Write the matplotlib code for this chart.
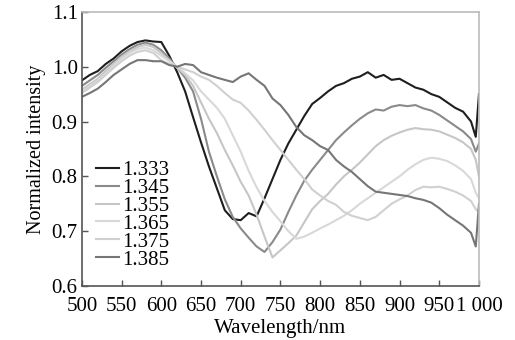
import matplotlib
matplotlib.use('Agg')
import matplotlib.pyplot as plt

# wavelength grid (nm)
wl = [500, 510, 520, 530, 540, 550, 560, 570, 580, 590,
      600, 610, 620, 630, 640, 650, 660, 670, 680, 690,
      700, 710, 720, 730, 740, 750, 760, 770, 780, 790,
      800, 810, 820, 830, 840, 850, 860, 870, 880, 890,
      900, 910, 920, 930, 940, 950, 960, 970, 980, 990,
      996, 1000]

n1333 = [0.975, 0.985, 0.992, 1.005, 1.015, 1.028, 1.038, 1.045, 1.048, 1.046,
         1.045, 1.020, 0.990, 0.955, 0.908, 0.862, 0.818, 0.778, 0.738, 0.722,
         0.720, 0.733, 0.727, 0.760, 0.795, 0.830, 0.860, 0.885, 0.910, 0.932,
         0.943, 0.955, 0.965, 0.970, 0.978, 0.982, 0.990, 0.980, 0.985, 0.976,
         0.978, 0.970, 0.962, 0.958, 0.950, 0.945, 0.935, 0.925, 0.918, 0.900,
         0.872, 0.950]

n1345 = [0.965, 0.975, 0.985, 0.998, 1.010, 1.022, 1.032, 1.040, 1.044, 1.040,
         1.030, 1.015, 0.998, 0.980, 0.955, 0.905, 0.845, 0.800, 0.758, 0.726,
         0.705, 0.688, 0.672, 0.662, 0.680, 0.703, 0.735, 0.765, 0.792, 0.812,
         0.830, 0.848, 0.866, 0.880, 0.893, 0.905, 0.915, 0.922, 0.920, 0.927,
         0.930, 0.928, 0.930, 0.924, 0.920, 0.912, 0.902, 0.892, 0.882, 0.868,
         0.845, 0.860]

n1355 = [0.958, 0.968, 0.978, 0.992, 1.005, 1.018, 1.028, 1.036, 1.040, 1.036,
         1.025, 1.012, 0.998, 0.985, 0.965, 0.935, 0.905, 0.879, 0.848, 0.820,
         0.790, 0.765, 0.730, 0.690, 0.652, 0.665, 0.678, 0.692, 0.716, 0.740,
         0.755, 0.768, 0.785, 0.800, 0.812, 0.825, 0.840, 0.855, 0.866, 0.874,
         0.880, 0.885, 0.888, 0.886, 0.885, 0.882, 0.876, 0.870, 0.862, 0.850,
         0.830, 0.800]

n1365 = [0.955, 0.965, 0.975, 0.988, 1.002, 1.015, 1.025, 1.032, 1.035, 1.030,
         1.020, 1.010, 1.000, 0.988, 0.975, 0.955, 0.940, 0.925, 0.905, 0.875,
         0.845, 0.810, 0.780, 0.755, 0.735, 0.718, 0.700, 0.686, 0.690, 0.697,
         0.705, 0.712, 0.720, 0.728, 0.738, 0.750, 0.760, 0.770, 0.780, 0.790,
         0.800, 0.812, 0.822, 0.830, 0.834, 0.832, 0.828, 0.820, 0.810, 0.795,
         0.770, 0.760]

n1375 = [0.952, 0.962, 0.972, 0.985, 0.998, 1.010, 1.020, 1.027, 1.030, 1.025,
         1.012, 1.005, 1.000, 0.995, 0.990, 0.982, 0.976, 0.965, 0.952, 0.940,
         0.934, 0.920, 0.903, 0.885, 0.866, 0.848, 0.830, 0.812, 0.795, 0.776,
         0.765, 0.755, 0.748, 0.735, 0.728, 0.724, 0.720, 0.726, 0.738, 0.750,
         0.758, 0.765, 0.775, 0.781, 0.780, 0.781, 0.777, 0.772, 0.765, 0.755,
         0.740, 0.735]

n1385 = [0.945, 0.952, 0.960, 0.972, 0.985, 0.995, 1.005, 1.012, 1.012, 1.010,
         1.010, 1.003, 1.000, 1.005, 1.003, 0.990, 0.985, 0.980, 0.976, 0.972,
         0.982, 0.988, 0.976, 0.965, 0.942, 0.930, 0.912, 0.890, 0.875, 0.866,
         0.855, 0.848, 0.830, 0.818, 0.808, 0.795, 0.782, 0.772, 0.770, 0.768,
         0.766, 0.764, 0.760, 0.757, 0.752, 0.742, 0.730, 0.720, 0.710, 0.697,
         0.672, 0.750]

labels = ['1.333', '1.345', '1.355', '1.365', '1.375', '1.385']
colors = ['#1e1e1e', '#8a8a8a', '#c6c6c6', '#d8d8d8', '#d0d0d0', '#767676']
series = [n1333, n1345, n1355, n1365, n1375, n1385]

xticks = [500, 550, 600, 650, 700, 750, 800, 850, 900, 950, 1000]
xticklabels = ['500', '550', '600', '650', '700', '750', '800', '850', '900', '950', '1 000']
yticks = [0.6, 0.7, 0.8, 0.9, 1.0, 1.1]
yticklabels = ['0.6', '0.7', '0.8', '0.9', '1.0', '1.1']

plt.rcParams['font.family'] = ['Liberation Serif', 'DejaVu Serif']
plt.rcParams['font.size'] = 15

fig = plt.figure(figsize=(5.15, 3.40), dpi=100)
ax = fig.add_axes([0.159, 0.159, 0.771, 0.806])

for vals, lab, col in zip(series, labels, colors):
    ax.plot(wl, vals, color=col, lw=1.5, label=lab)

ax.set_xlim(500, 1000)
ax.set_ylim(0.6, 1.1)
ax.set_xticks(xticks)
ax.set_xticklabels(xticklabels)
ax.set_yticks(yticks)
ax.set_yticklabels(yticklabels)
ax.tick_params(direction='in', length=4, width=1, colors='#555555', labelcolor='black')
ax.tick_params(axis='x', pad=8)
ax.tick_params(axis='y', pad=3)

ax.spines['left'].set_color('#555555')
ax.spines['bottom'].set_color('#555555')
ax.spines['top'].set_color('#bbbbbb')
ax.spines['right'].set_color('#bbbbbb')
for s in ax.spines.values():
    s.set_linewidth(1.2)

ax.set_xlabel('Wavelength/nm', labelpad=2)
ax.set_ylabel('Normalized intensity', labelpad=4, fontsize=14.5)

leg = ax.legend(loc='upper left', bbox_to_anchor=(0.035, 0.458), frameon=False,
                handlelength=1.1, handletextpad=0.15, labelspacing=-0.08,
                borderpad=0, borderaxespad=0)

fig.savefig('out.png', dpi=100)
